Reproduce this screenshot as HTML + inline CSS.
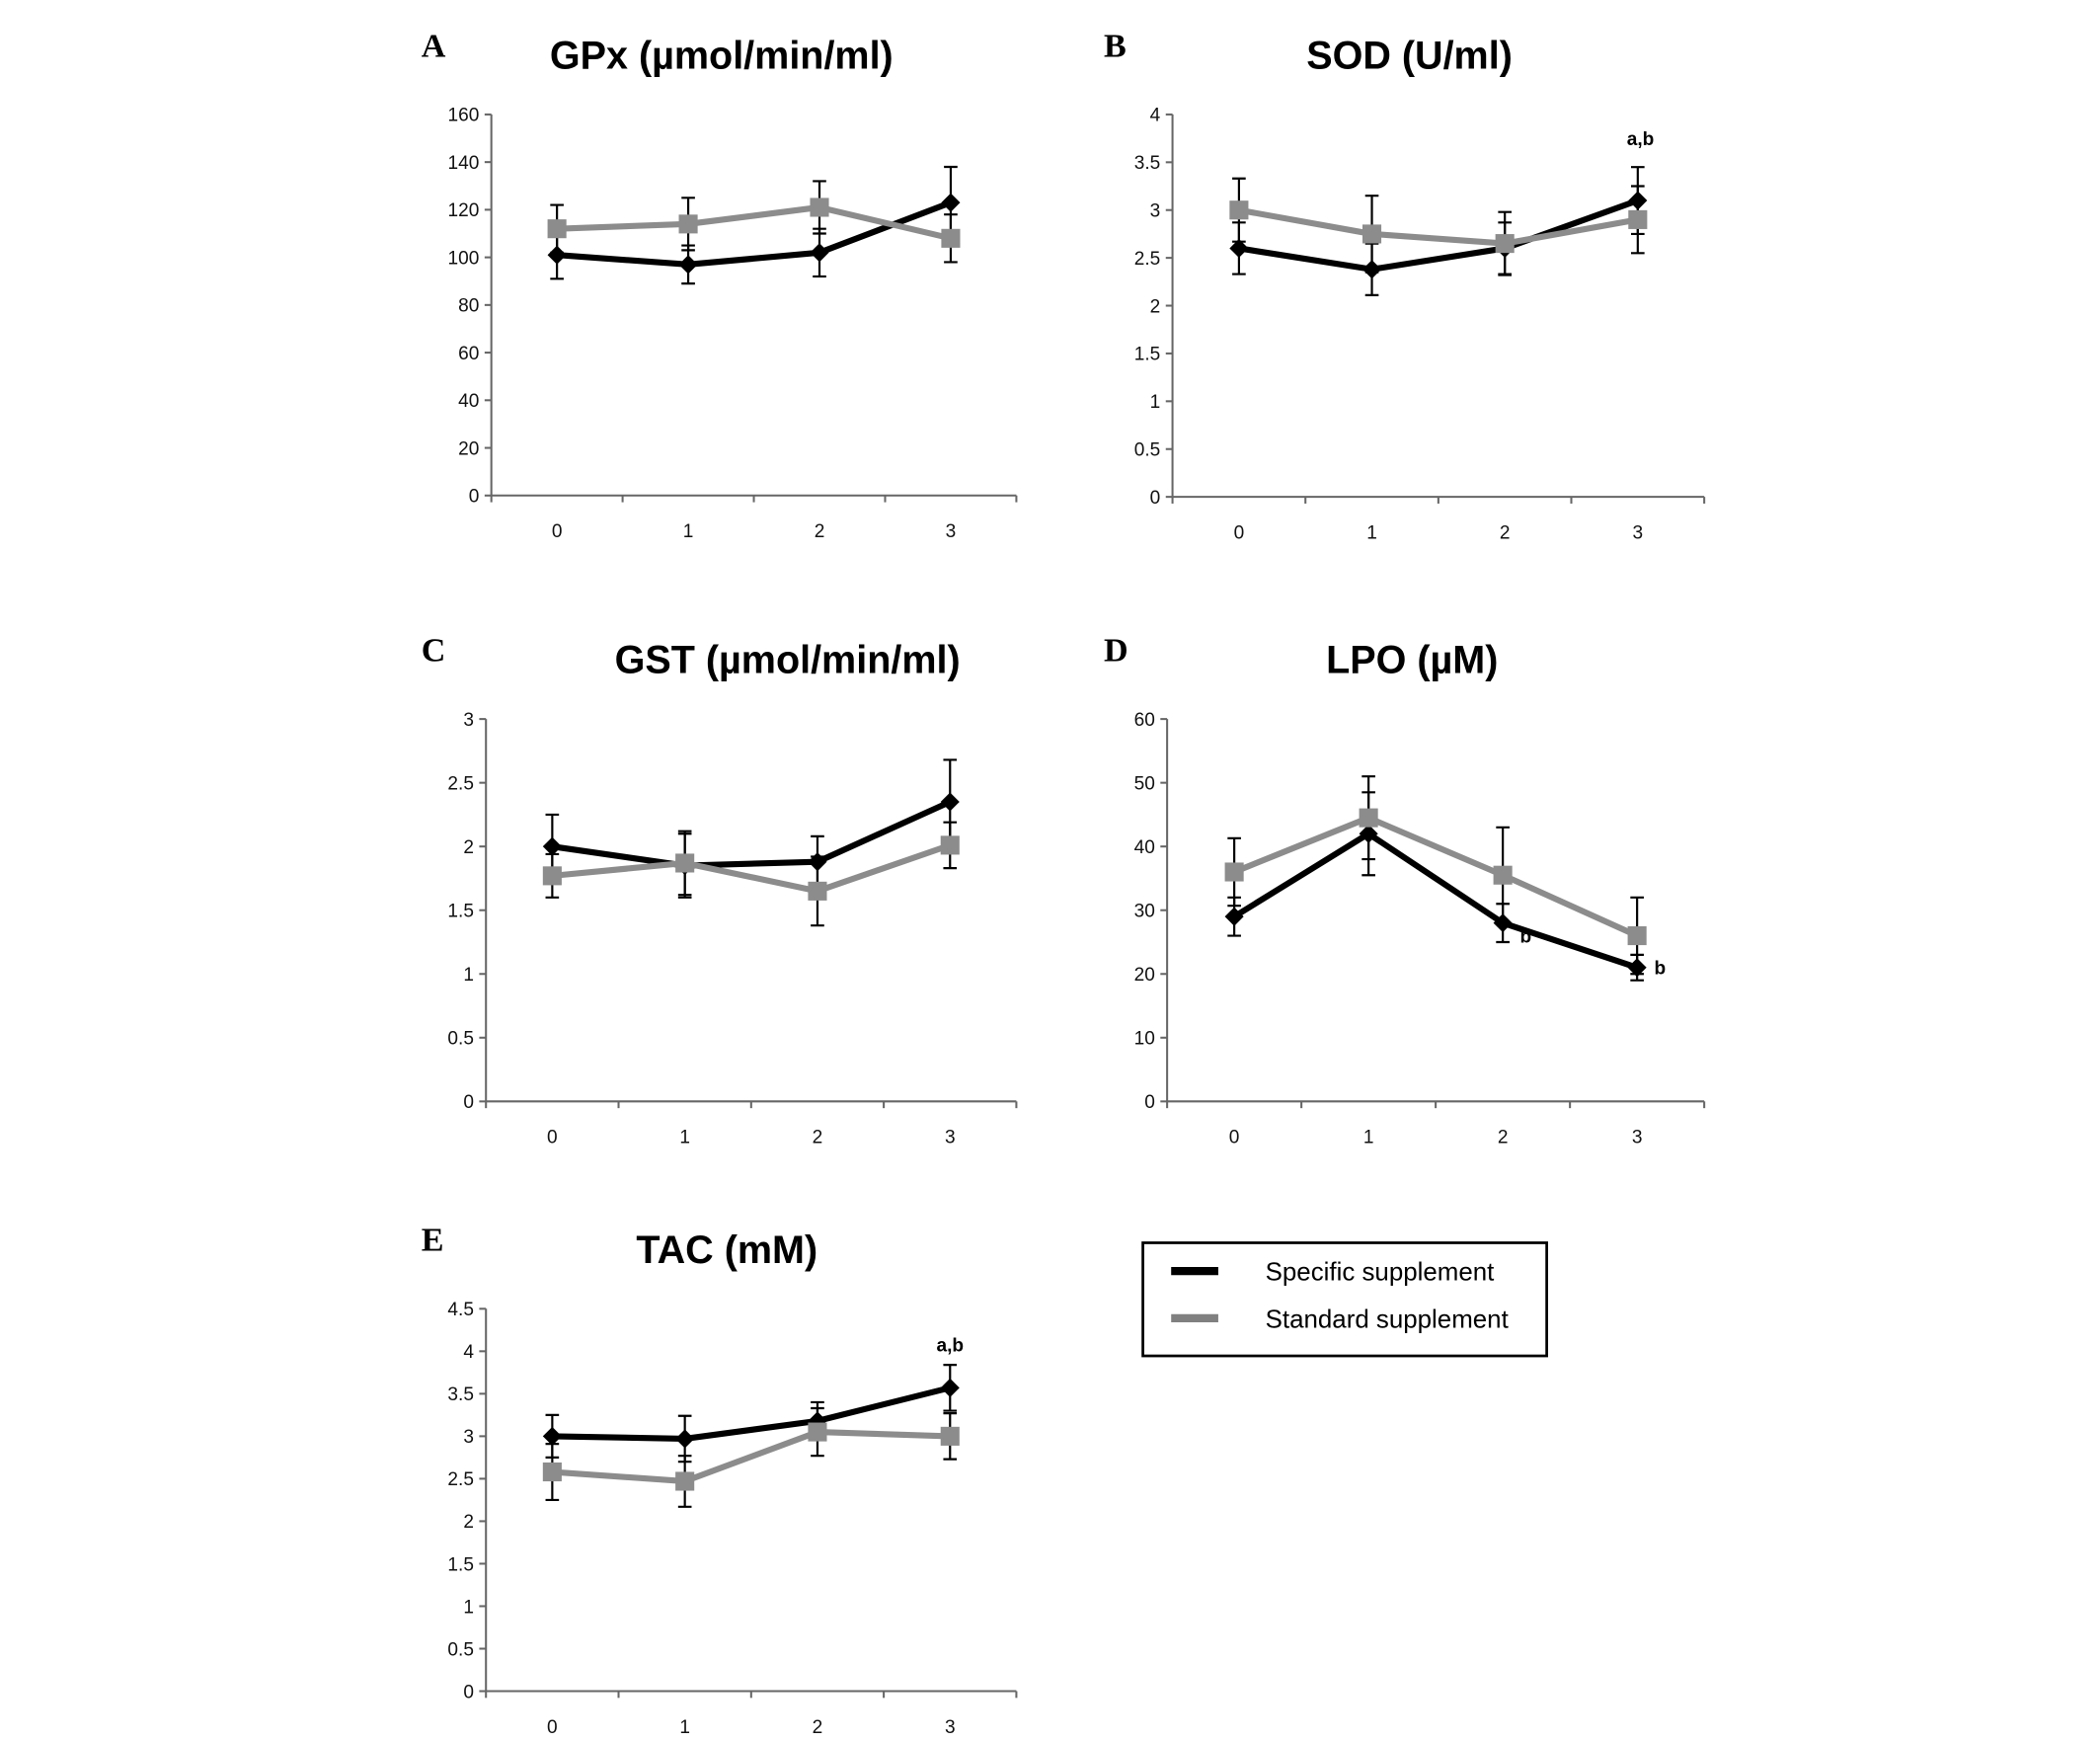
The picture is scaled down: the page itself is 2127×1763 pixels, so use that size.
<!DOCTYPE html>
<html><head><meta charset="utf-8"><style>
html,body{margin:0;padding:0;background:#fff;}
svg{display:block;}
</style></head><body>
<svg id="fig" width="2127" height="1763" viewBox="0 0 1560 1293" xmlns="http://www.w3.org/2000/svg" font-family="'Liberation Sans', 'DejaVu Sans', sans-serif">
<rect width="1560" height="1293" fill="#fff"/>
<g>
  <rect x="849" y="923" width="300" height="84" fill="#fff" stroke="#000" stroke-width="2"/>
  <line x1="870" y1="944" x2="905" y2="944" stroke="#000" stroke-width="6"/>
  <line x1="870" y1="979" x2="905" y2="979" stroke="#808080" stroke-width="6"/>
  <text x="940" y="951" font-size="19">Specific supplement</text>
  <text x="940" y="986" font-size="19">Standard supplement</text>
</g>
</svg>
<script>
const categories = ["0","1","2","3"];
const gpxSpecific = [101,97,102,123], gpxSpecificErr = [10,8,10,15];
const gpxStandard = [112,114,121,108], gpxStandardErr = [10,11,11,10];
const gpxTicks = [0,20,40,60,80,100,120,140,160];
const sodSpecific = [2.6,2.38,2.6,3.1], sodSpecificErr = [0.27,0.27,0.27,0.35];
const sodStandard = [3.0,2.75,2.65,2.9], sodStandardErr = [0.33,0.4,0.33,0.35];
const sodTicks = [0,0.5,1,1.5,2,2.5,3,3.5,4];
const gstSpecific = [2.0,1.85,1.88,2.35], gstSpecificErr = [0.25,0.25,0.2,0.33];
const gstStandard = [1.77,1.87,1.65,2.01], gstStandardErr = [0.17,0.25,0.27,0.18];
const gstTicks = [0,0.5,1,1.5,2,2.5,3];
const lpoSpecific = [29,42,28,21], lpoSpecificErr = [3,6.5,3,2];
const lpoStandard = [36,44.5,35.5,26], lpoStandardErr = [5.3,6.5,7.5,6];
const lpoTicks = [0,10,20,30,40,50,60];
const tacSpecific = [3.0,2.97,3.18,3.57], tacSpecificErr = [0.25,0.27,0.22,0.27];
const tacStandard = [2.58,2.47,3.05,3.0], tacStandardErr = [0.33,0.3,0.28,0.27];
const tacTicks = [0,0.5,1,1.5,2,2.5,3,3.5,4,4.5];

const NS = "http://www.w3.org/2000/svg";
const svg = document.getElementById('fig');
function mk(tag, attrs, parent){const e=document.createElementNS(NS,tag);for(const k in attrs)e.setAttribute(k,attrs[k]);(parent||svg).appendChild(e);return e;}

const panels = [
 {id:'gpx',letter:'A',letterX:313,title:'GPx (µmol/min/ml)',titleX:536,ax:365,y0:368,yTop:85,xEnd:755,ticks:gpxTicks,s:gpxSpecific,se:gpxSpecificErr,g:gpxStandard,ge:gpxStandardErr,ann:[]},
 {id:'sod',letter:'B',letterX:820,title:'SOD (U/ml)',titleX:1047,ax:871,y0:369,yTop:85,xEnd:1266,ticks:sodTicks,s:sodSpecific,se:sodSpecificErr,g:sodStandard,ge:sodStandardErr,ann:[{i:3,v:3.75,t:'a,b',dx:2}]},
 {id:'gst',letter:'C',letterX:313,title:'GST (µmol/min/ml)',titleX:585,ax:361,y0:818,yTop:534,xEnd:755,ticks:gstTicks,s:gstSpecific,se:gstSpecificErr,g:gstStandard,ge:gstStandardErr,ann:[]},
 {id:'lpo',letter:'D',letterX:820,title:'LPO (µM)',titleX:1049,ax:867,y0:818,yTop:534,xEnd:1266,ticks:lpoTicks,s:lpoSpecific,se:lpoSpecificErr,g:lpoStandard,ge:lpoStandardErr,ann:[{i:2,v:26,t:'b',dx:17},{i:3,v:21,t:'b',dx:17}]},
 {id:'tac',letter:'E',letterX:313,title:'TAC (mM)',titleX:540,ax:361,y0:1256,yTop:972,xEnd:755,ticks:tacTicks,s:tacSpecific,se:tacSpecificErr,g:tacStandard,ge:tacStandardErr,ann:[{i:3,v:4.08,t:'a,b',dx:0}]}
];

panels.forEach(p=>{
  const g = mk('g',{});
  
  
  const maxV = p.ticks[p.ticks.length-1];
  const yS = v => p.y0 - (v/maxV)*(p.y0-p.yTop);
  const bw = (p.xEnd-p.ax)/categories.length;
  const xS = i => p.ax + bw*(i+0.5);
  const L = mk('text',{x:p.letterX,y:p.yTop-43,'font-size':25,'font-weight':'bold','font-family':"'Liberation Serif', serif"},g);
  L.textContent=p.letter;
  
  
  const T = mk('text',{x:p.titleX,y:p.yTop-34,'font-size':29,'font-weight':'bold','text-anchor':'middle'},g);
  T.textContent=p.title;
  
  
  const ya = mk('line',{x1:p.ax,y1:p.yTop,x2:p.ax,y2:p.y0,stroke:'#666','stroke-width':1.5},g);
  
  
  const xa = mk('line',{x1:p.ax,y1:p.y0,x2:p.xEnd,y2:p.y0,stroke:'#666','stroke-width':1.5},g);
  
  
  p.ticks.forEach(t=>{
    mk('line',{x1:p.ax-5,y1:yS(t),x2:p.ax,y2:yS(t),stroke:'#666','stroke-width':1.5},g);
    const tx = mk('text',{x:p.ax-9,y:yS(t)+5,'font-size':14,'text-anchor':'end',fill:'#111'},g);
    tx.textContent=String(t);
    
    
  });
  for(let i=0;i<=categories.length;i++){
    mk('line',{x1:p.ax+bw*i,y1:p.y0,x2:p.ax+bw*i,y2:p.y0+5,stroke:'#666','stroke-width':1.5},g);
  }
  categories.forEach((c,i)=>{
    const tx = mk('text',{x:xS(i),y:p.y0+31,'font-size':14,'text-anchor':'middle',fill:'#111'},g);
    tx.textContent=c;
    
    
  });
  function err(vals, errs, name){
    vals.forEach((v,i)=>{
      const x=xS(i), a=yS(v+errs[i]), b=yS(v-errs[i]);
      const e = mk('path',{d:`M${x},${a}V${b}M${x-5},${a}H${x+5}M${x-5},${b}H${x+5}`,stroke:'#000','stroke-width':1.6,fill:'none'},g);
      
      
    });
  }
  function series(vals, color, name, marker){
    const pts = vals.map((v,i)=>xS(i)+','+yS(v)).join(' ');
    const pl = mk('polyline',{points:pts,fill:'none',stroke:color,'stroke-width':4.5,'stroke-linejoin':'round'},g);
    
    
    vals.forEach((v,i)=>{
      const x=xS(i), y=yS(v);
      let m;
      if(marker==='diamond') m = mk('polygon',{points:`${x},${y-7} ${x+7},${y} ${x},${y+7} ${x-7},${y}`,fill:color},g);
      else m = mk('rect',{x:x-7,y:y-7,width:14,height:14,fill:color},g);
      
      
    });
  }
  err(p.g,p.ge,'standard');
  err(p.s,p.se,'specific');
  series(p.s,'#000','specific','diamond');
  series(p.g,'#8c8c8c','standard','square');
  p.ann.forEach(a=>{
    const t = mk('text',{x:xS(a.i)+a.dx,y:yS(a.v)+5,'font-size':14,'font-weight':'bold','text-anchor':'middle'},g);
    t.textContent=a.t;
    
    
  });
});
</script>
</body></html>
